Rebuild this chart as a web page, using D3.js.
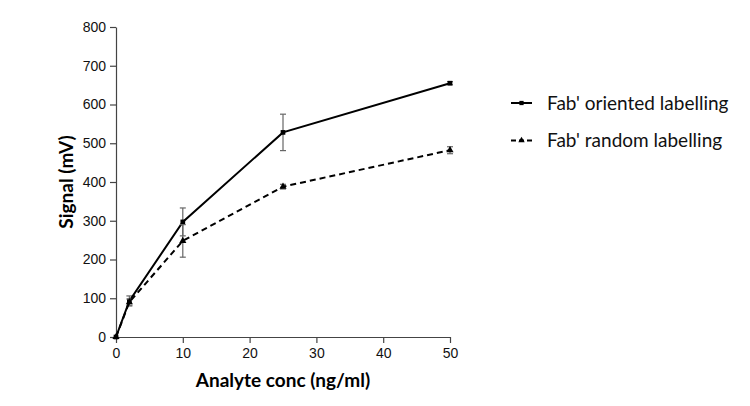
<!DOCTYPE html>
<html>
<head>
<meta charset="utf-8">
<script src="https://cdn.jsdelivr.net/npm/d3@7"></script>
<style>
  body { margin: 0; background: #fff; }
  svg { display: block; }
</style>
</head>
<body>
<svg></svg>
<script>
// data
var conc = [0, 2, 10, 25, 50];
var orientedMean = [0, 93, 297, 528, 655];
var orientedErr = [0, 13, 36, 47, 4];
var randomMean = [0, 90, 248, 388, 482];
var randomErr = [0, 8, 42, 6, 9];
var xTicks = [0, 10, 20, 30, 40, 50];
var yTicks = [0, 100, 200, 300, 400, 500, 600, 700, 800];
var seriesNames = ["Fab' oriented labelling", "Fab' random labelling"];

var svgWidth = 750, svgHeight = 406;
var margin = { top: 27, left: 116, bottom: 69, right: 300 };
var width = svgWidth - margin.left - margin.right;
var height = svgHeight - margin.top - margin.bottom;

var svg = d3.select("svg")
    .attr("width", svgWidth)
    .attr("height", svgHeight);

var g = svg.append("g")
    .attr("transform", "translate(" + margin.left + "," + margin.top + ")");

var x = d3.scaleLinear().domain([0, 50]).range([0, width]);
var y = d3.scaleLinear().domain([0, 800]).range([height, 0]);

var axisColor = "#444";

var xAxis = g.append("g")
    .attr("transform", "translate(0," + height + ")")
    .call(d3.axisBottom(x).tickValues(xTicks).tickSize(6).tickSizeOuter(0));
var yAxis = g.append("g")
    .call(d3.axisLeft(y).tickValues(yTicks).tickSize(6).tickSizeOuter(0));

[xAxis, yAxis].forEach(function (a) {
    a.selectAll("path, line").attr("stroke", axisColor).attr("stroke-width", 1.2);
    a.selectAll("text")
        .attr("fill", "#111")
        .style("font-family", "'Liberation Sans', Arial, sans-serif")
        .style("font-size", "14px");
});
xAxis.selectAll("text").attr("dy", "0.85em");
yAxis.selectAll("text").attr("x", -10);

// axis titles
g.append("text")
    .attr("x", width / 2)
    .attr("y", height + 50)
    .attr("text-anchor", "middle")
    .style("font-family", "Lato, sans-serif")
    .style("font-weight", "bold")
    .style("font-size", "19px")
    .text("Analyte conc (ng/ml)");

g.append("text")
    .attr("transform", "rotate(-90)")
    .attr("x", -height / 2)
    .attr("y", -50)
    .attr("dy", "0.35em")
    .attr("text-anchor", "middle")
    .style("font-family", "Lato, sans-serif")
    .style("font-weight", "bold")
    .style("font-size", "19px")
    .text("Signal (mV)");

function makeRows(mean, err) {
    return conc.map(function (c, i) {
        return { x: c, y: mean[i], e: err[i] };
    });
}

var series = [
    { name: seriesNames[0], rows: makeRows(orientedMean, orientedErr), dash: null, marker: "square" },
    { name: seriesNames[1], rows: makeRows(randomMean, randomErr), dash: "6,4", marker: "triangle" }
];

var line = d3.line()
    .x(function (d) { return x(d.x); })
    .y(function (d) { return y(d.y); });

series.forEach(function (s) {
    // error bars
    var eb = g.append("g").selectAll("g")
        .data(s.rows.filter(function (d) { return d.e > 0; }))
        .enter()
        .append("g")
        .attr("stroke", "#666")
        .attr("stroke-width", 1.2);
    eb.append("line")
        .attr("x1", function (d) { return x(d.x); })
        .attr("x2", function (d) { return x(d.x); })
        .attr("y1", function (d) { return y(d.y - d.e); })
        .attr("y2", function (d) { return y(d.y + d.e); });
    eb.append("line")
        .attr("x1", function (d) { return x(d.x) - 3; })
        .attr("x2", function (d) { return x(d.x) + 3; })
        .attr("y1", function (d) { return y(d.y + d.e); })
        .attr("y2", function (d) { return y(d.y + d.e); });
    eb.append("line")
        .attr("x1", function (d) { return x(d.x) - 3; })
        .attr("x2", function (d) { return x(d.x) + 3; })
        .attr("y1", function (d) { return y(d.y - d.e); })
        .attr("y2", function (d) { return y(d.y - d.e); });

    g.append("path")
        .datum(s.rows)
        .attr("fill", "none")
        .attr("stroke", "#000")
        .attr("stroke-width", 2)
        .attr("stroke-dasharray", s.dash)
        .attr("d", line);

    g.append("g").selectAll("path")
        .data(s.rows)
        .enter()
        .append("path")
        .attr("transform", function (d) { return "translate(" + x(d.x) + "," + y(d.y) + ")"; })
        .attr("d", d3.symbol().type(s.marker === "square" ? d3.symbolSquare : d3.symbolTriangle).size(22))
        .attr("fill", "#000");
});

// legend
var legend = svg.append("g")
    .attr("transform", "translate(511,103)");
var items = legend.selectAll("g")
    .data(series)
    .enter()
    .append("g")
    .attr("transform", function (d, i) { return "translate(0," + i * 37.5 + ")"; });
items.append("line")
    .attr("x1", 0).attr("x2", 21)
    .attr("stroke", "#000")
    .attr("stroke-width", 2)
    .attr("stroke-dasharray", function (d) { return d.dash ? "5,3" : null; });
items.append("path")
    .attr("transform", "translate(10.5,0)")
    .attr("d", function (d) {
        return d3.symbol().type(d.marker === "square" ? d3.symbolSquare : d3.symbolTriangle).size(18)();
    })
    .attr("fill", "#000");
items.append("text")
    .attr("x", 36)
    .attr("dy", "0.35em")
    .style("font-family", "Lato, sans-serif")
    .style("font-size", "19px")
    .attr("fill", "#111")
    .text(function (d) { return d.name; });
</script>
</body>
</html>
